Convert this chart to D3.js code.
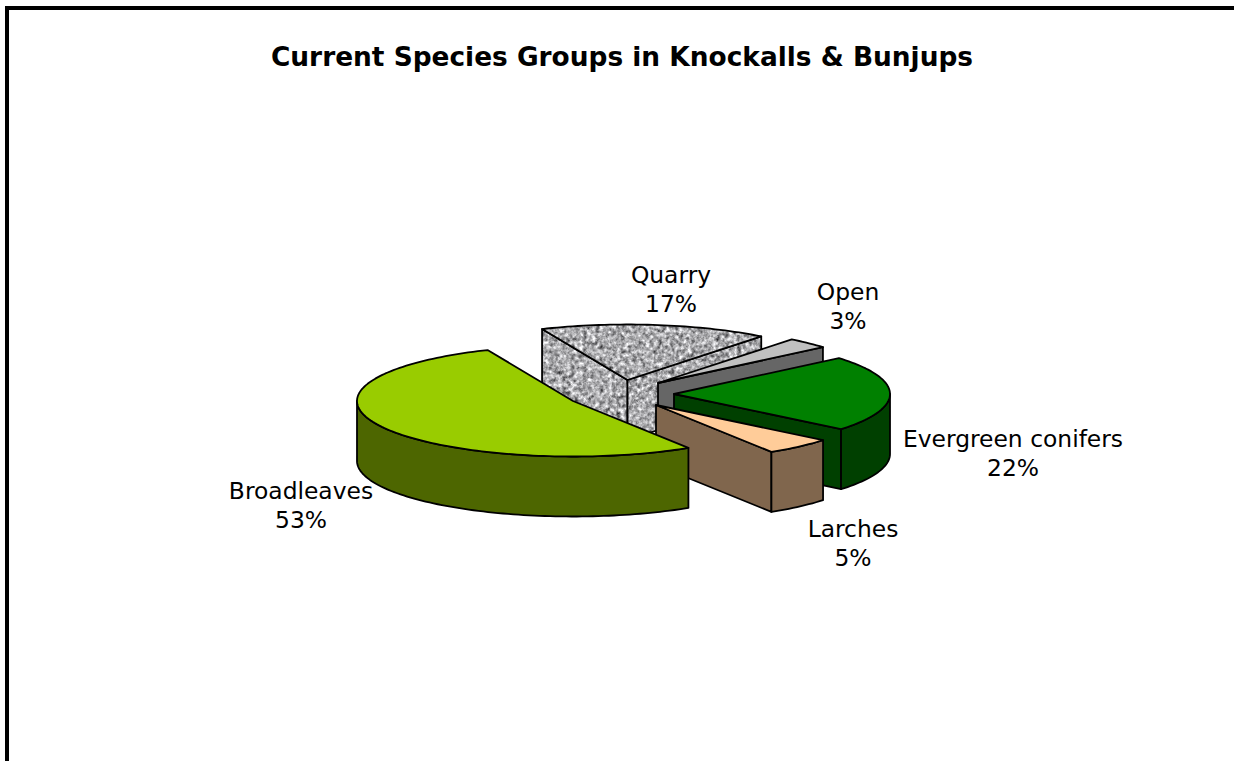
<!DOCTYPE html>
<html>
<head>
<meta charset="utf-8">
<title>Current Species Groups</title>
<script src="https://cdn.jsdelivr.net/npm/d3@7"></script>
<style>
  html, body { margin: 0; padding: 0; background: #fff; overflow: hidden; }
  svg { display: block; }
  text { font-family: "DejaVu Sans", sans-serif; fill: #000; }
</style>
</head>
<body>
<svg width="1234" height="761">
  <defs>
    <filter id="granite" x="0" y="0" width="100%" height="100%" filterUnits="objectBoundingBox" color-interpolation-filters="sRGB">
      <feTurbulence type="fractalNoise" baseFrequency="0.24" numOctaves="3" seed="7" result="noise"/>
      <feColorMatrix in="noise" type="matrix" values="0.5 0.5 0 0 0  0.5 0.5 0 0 0  0.5 0.5 0 0 0  0 0 0 0 1"/>
      <feComponentTransfer>
        <feFuncR type="linear" slope="1.6" intercept="-0.13"/>
        <feFuncG type="linear" slope="1.6" intercept="-0.13"/>
        <feFuncB type="linear" slope="1.6" intercept="-0.12"/>
      </feComponentTransfer>
      <feGaussianBlur stdDeviation="0.5"/>
      <feComposite in2="SourceAlpha" operator="in"/>
    </filter>
  </defs>
</svg>
<script>
const title = "Current Species Groups in Knockalls & Bunjups";
const categories = ["Broadleaves", "Quarry", "Open", "Evergreen conifers", "Larches"];
const values = [52.5, 17.1, 3.2, 22.1, 5.1];
const topColors = ["#99cc00", "granite", "#c0c0c0", "#008000", "#ffcc99"];
const sideColors = ["#4d6600", "granite", "#666666", "#004000", "#80664d"];

// where each exploded slice has its tip, and where its label goes
const tips = [[573, 401], [627.5, 380], [658, 383], [674, 394], [656, 405]];
const labelPos = [[301, 499], [671, 283], [848, 300], [1013, 447], [853, 537]];
const drawOrder = [1, 2, 3, 4, 0];

const rx = d3.scaleLinear().domain([-1, 1]).range([-216, 216]);
const ry = d3.scaleLinear().domain([-1, 1]).range([-55.5, 55.5]);
const depth = 60;

const svg = d3.select("svg");
const pie = d3.pie().sort(null).value(d => d)
  .startAngle(147.7 * Math.PI / 180)
  .endAngle((147.7 + 360) * Math.PI / 180);
const slices = pie(values);
const line = d3.line();

// d3.pie angles start at 12 o'clock and run clockwise
function rim(tip, a, dy) {
  return [tip[0] + rx(Math.sin(a)), tip[1] - ry(Math.cos(a)) + (dy || 0)];
}

function arcPoints(tip, a0, a1, dy) {
  const n = Math.max(2, Math.ceil(Math.abs(a1 - a0) * 40));
  return d3.range(n + 1).map(i => rim(tip, a0 + (a1 - a0) * i / n, dy));
}

function face(points, color) {
  const d = line(points) + "Z";
  if (color === "granite") {
    svg.append("path").attr("d", d).attr("fill", "#000").attr("filter", "url(#granite)");
    svg.append("path").attr("d", d).attr("fill", "none")
      .attr("stroke", "#000").attr("stroke-width", 1.8).attr("stroke-linejoin", "round");
  } else {
    svg.append("path").attr("d", d).attr("fill", color)
      .attr("stroke", "#000").attr("stroke-width", 1.8).attr("stroke-linejoin", "round");
  }
}

function cutWall(tip, a, color) {
  const p = rim(tip, a);
  face([tip, p, [p[0], p[1] + depth], [tip[0], tip[1] + depth]], color);
}

function outerWall(tip, a0, a1, color) {
  // only the part of the rim that faces the viewer (lower half of the ellipse)
  const lo = Math.PI / 2;
  const hi = Math.PI * 1.5;
  [0, Math.PI * 2].forEach(shift => {
    const s = Math.max(a0, lo + shift);
    const e = Math.min(a1, hi + shift);
    if (e <= s) return;
    face(arcPoints(tip, s, e).concat(arcPoints(tip, e, s, depth)), color);
  });
}

function drawSlice(i) {
  const s = slices[i];
  const tip = tips[i];
  // a cut side only shows when it faces down the screen
  if (Math.sin(s.startAngle) < 0) cutWall(tip, s.startAngle, sideColors[i]);
  if (Math.sin(s.endAngle) > 0) cutWall(tip, s.endAngle, sideColors[i]);
  outerWall(tip, s.startAngle, s.endAngle, sideColors[i]);
  face([tip].concat(arcPoints(tip, s.startAngle, s.endAngle)), topColors[i]);
}

function drawBorder() {
  svg.append("path").attr("d", "M7 761V8H1234")
    .attr("fill", "none").attr("stroke", "#000").attr("stroke-width", 4);
}

function drawTitle() {
  svg.append("text").attr("x", 622).attr("y", 66)
    .attr("text-anchor", "middle").attr("font-size", 26.4).attr("font-weight", "bold")
    .text(title);
}

function drawLabels() {
  const total = d3.sum(values);
  const g = svg.selectAll(".label").data(categories).join("text")
    .attr("class", "label").attr("text-anchor", "middle").attr("font-size", 23.4);
  g.append("tspan").attr("x", (d, i) => labelPos[i][0]).attr("y", (d, i) => labelPos[i][1])
    .text(d => d);
  g.append("tspan").attr("x", (d, i) => labelPos[i][0]).attr("y", (d, i) => labelPos[i][1] + 29)
    .text((d, i) => Math.round(values[i] / total * 100) + "%");
}

drawBorder();
drawTitle();
drawOrder.forEach(drawSlice);
drawLabels();
</script>
</body>
</html>
